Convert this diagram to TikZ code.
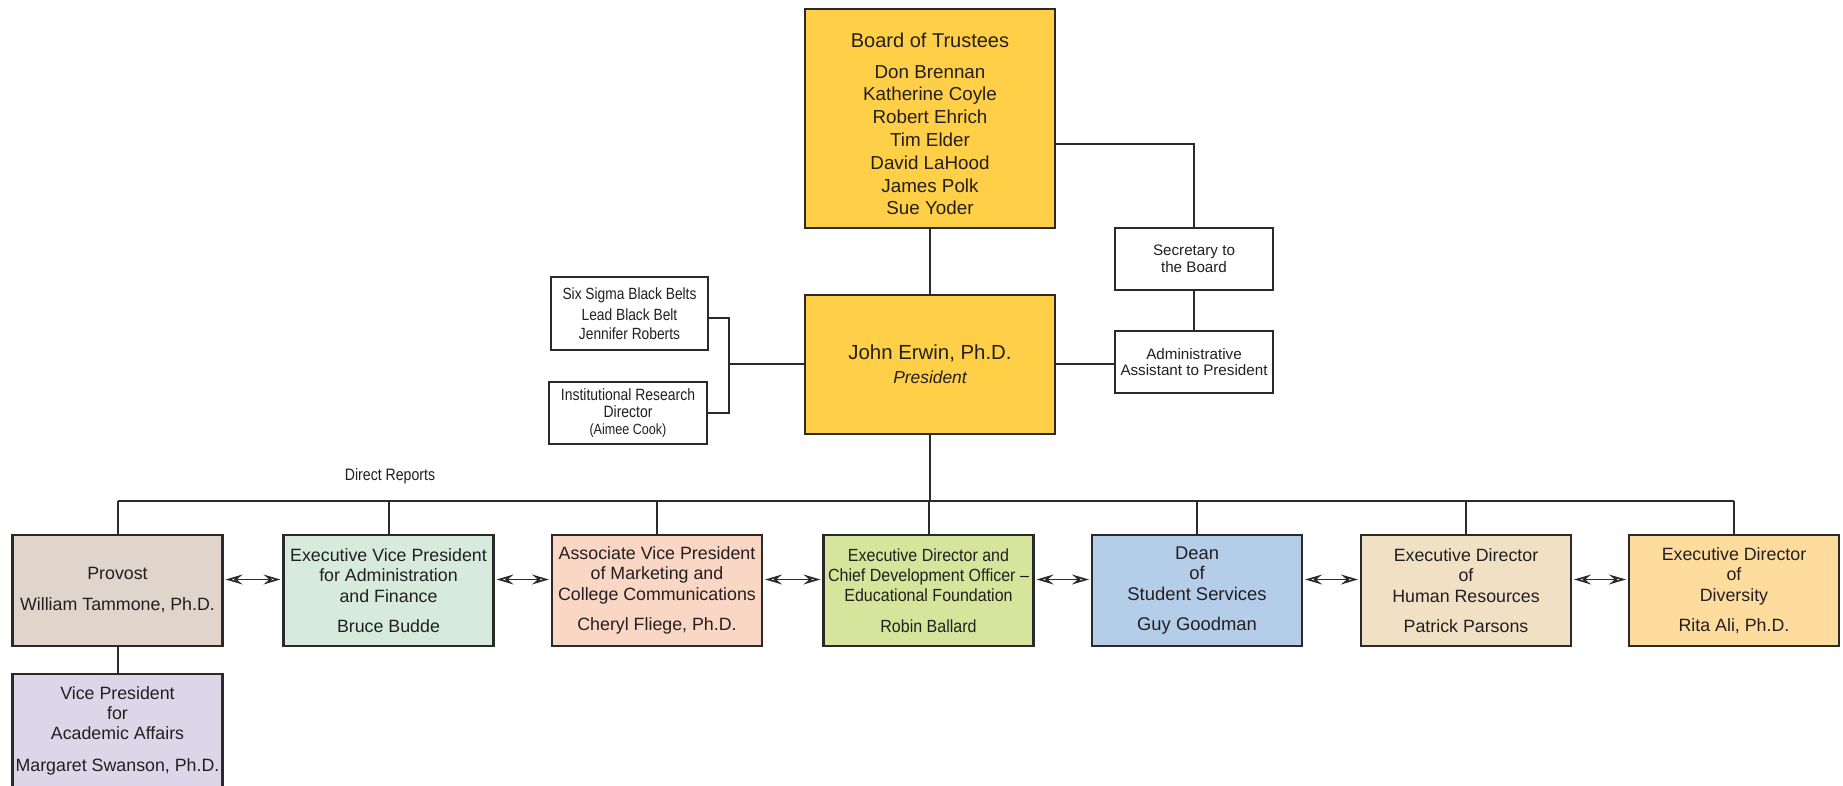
\documentclass[tikz,border=0pt]{standalone}
\usepackage{fontspec}
\setmainfont{Liberation Sans}
\newfontfamily\condfont[FakeStretch=0.85]{Liberation Sans}
\newfontfamily\narrowfont[FakeStretch=0.91]{Liberation Sans}
\usetikzlibrary{arrows.meta,calc}
\definecolor{linec}{HTML}{2A2A2A}
\definecolor{textc}{HTML}{231F20}
\definecolor{gold}{HTML}{FFCF47}
\definecolor{provc}{HTML}{E0D4CB}
\definecolor{evpc}{HTML}{D6EBDE}
\definecolor{avpc}{HTML}{FAD6C4}
\definecolor{edfc}{HTML}{D6E59B}
\definecolor{deanc}{HTML}{B4CDE9}
\definecolor{hrc}{HTML}{F0E1C5}
\definecolor{divc}{HTML}{FEDC9E}
\definecolor{vpac}{HTML}{DDD6E8}
\begin{document}
\begin{tikzpicture}[x=0.5pt,y=-0.5pt,
  box/.style={draw=linec, line width=1.1pt, text=textc, align=center, inner sep=1pt},
  conn/.style={draw=linec, line width=1pt},
  dbl/.style={draw=linec, line width=0.8pt,
    {Stealth[open,length=8.5pt,width=5pt,inset=3pt]}-{Stealth[open,length=8.5pt,width=5pt,inset=3pt]}},
  unit/.style={box, minimum width=105pt, minimum height=55.5pt, font=\fontsize{8.9}{10.2}\selectfont},
  small/.style={box, fill=white, minimum width=79pt, minimum height=31pt, font=\fontsize{7.6}{8.4}\selectfont},
]
\useasboundingbox (0,0) rectangle (1843,786);

% top
\node[box, fill=gold, minimum width=125pt, minimum height=109.5pt, font=\fontsize{9.4}{11.4}\selectfont] (board) at (930,118.5)
  {\rule{0pt}{12.5pt}{\fontsize{10}{11.4}\selectfont Board of Trustees}\\[4.1pt]Don Brennan\\Katherine Coyle\\Robert Ehrich\\Tim Elder\\David LaHood\\James Polk\\Sue Yoder};
\node[box, fill=gold, minimum width=125pt, minimum height=69.5pt] (pres) at (930,364.5)
  {{\fontsize{10.2}{11}\selectfont John Erwin, Ph.D.}\\{\fontsize{8.7}{11}\selectfont\itshape President}};
\node[small] (sec) at (1194,259) {Secretary to\\the Board};
\node[small] (admin) at (1194,362) {Administrative\\Assistant to President};
\node[box, fill=white, minimum width=78.5pt, minimum height=36.5pt, font=\condfont\fontsize{8.1}{9.6}\selectfont] (six) at (629.5,313.5)
  {Six Sigma Black Belts\\[1pt]Lead Black Belt\\Jennifer Roberts};
\node[box, fill=white, minimum width=79pt, minimum height=31pt, font=\condfont\fontsize{8.2}{8.3}\selectfont] (inst) at (628,413)
  {Institutional Research\\Director\\{\fontsize{7.4}{8.3}\selectfont(Aimee Cook)}};

\node[text=textc, font=\condfont\fontsize{8.3}{9}\selectfont, inner sep=0pt] (dr) at (390,476) {Direct Reports};

% bottom row
\node[unit, fill=provc] (prov) at (117.5,590.5) {Provost\\[5.3pt]William Tammone, Ph.D.};
\node[unit, fill=evpc] (evp) at (388.5,590.5) {Executive Vice President\\for Administration\\and Finance\\[5pt]Bruce Budde};
\node[unit, fill=avpc] (avp) at (657,590.5) {Associate Vice President\\of Marketing and\\College Communications\\[5pt]Cheryl Fliege, Ph.D.};
\node[unit, fill=edfc, font=\narrowfont\fontsize{8.8}{10.2}\selectfont] (edf) at (928.5,590.5) {Executive Director and\\Chief Development Officer –\\Educational Foundation\\[5pt]Robin Ballard};
\node[unit, fill=deanc, font=\fontsize{9.2}{10.3}\selectfont] (dean) at (1197,590.5) {Dean\\of\\Student Services\\[5pt]Guy Goodman};
\node[unit, fill=hrc] (hr) at (1466,590.5) {Executive Director\\of\\Human Resources\\[5pt]Patrick Parsons};
\node[unit, fill=divc] (div) at (1734,590.5) {Executive Director\\of\\Diversity\\[5pt]Rita Ali, Ph.D.};
\node[unit, fill=vpac, minimum height=56.5pt] (vpaa) at (117.5,730.5) {Vice President\\for\\Academic Affairs\\[5.5pt]Margaret Swanson, Ph.D.};

% connectors top
\draw[conn] (board) -- (pres);
\draw[conn] ([yshift=-12.75pt]board.east) -| (sec.north);
\draw[conn] (sec) -- (admin);
\draw[conn] (pres.east) -- (pres.east -| admin.west);
\coordinate (j) at (729,364.5);
\draw[conn] ([yshift=-2.5pt]six.east) -| (j);
\draw[conn] (inst.east) -| (j);
\draw[conn] (j) -- (pres.west);

% bus
\coordinate (bus) at (930,501);
\draw[conn] (pres.south) -- (pres.south |- bus);
\draw[conn] (prov.north |- bus) -- (div.north |- bus);
\foreach \n in {prov,evp,avp,edf,dean,hr,div}
  \draw[conn] (\n.north) -- (\n.north |- bus);
\draw[conn] (prov.south) -- (prov.south |- vpaa.north);

% lateral arrows
\foreach \a/\b in {prov/evp, evp/avp, avp/edf, edf/dean, dean/hr, hr/div}
  \draw[dbl] ([xshift=1pt,yshift=5.5pt]\a.east) -- ([xshift=-1pt,yshift=5.5pt]\b.west);
\end{tikzpicture}
\end{document}
